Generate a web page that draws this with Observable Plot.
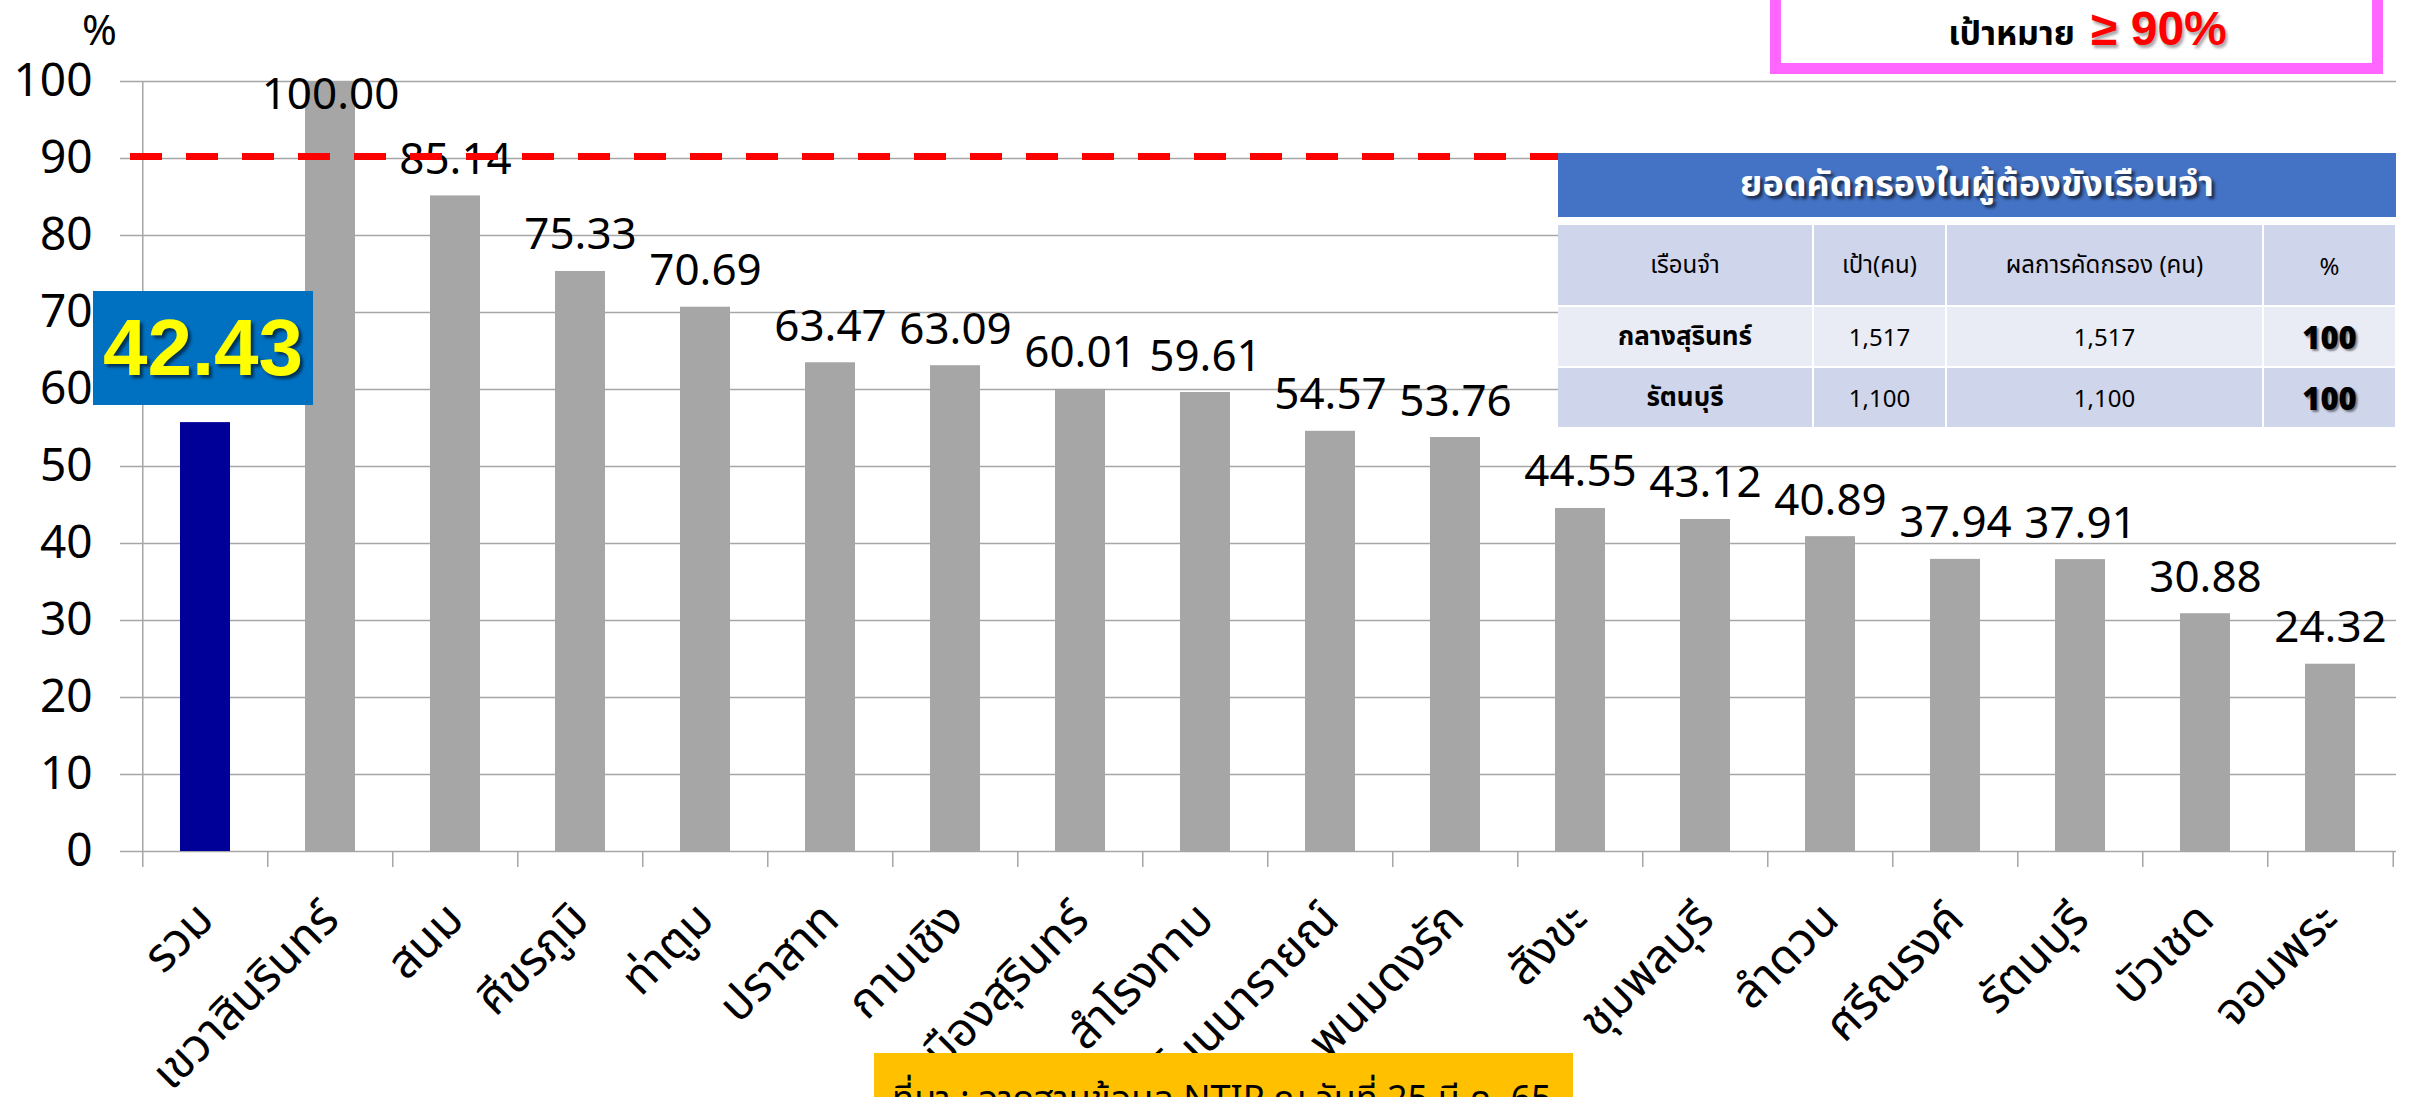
<!DOCTYPE html>
<html><head><meta charset="utf-8">
<script src="https://cdn.jsdelivr.net/npm/d3@7"></script>
<script src="https://cdn.jsdelivr.net/npm/@observablehq/plot@0.6"></script>
<style>
body{margin:0;background:#fff;font-family:"Noto Sans","Noto Sans Thai",Loma,Garuda,"DejaVu Sans",sans-serif;}
#wrap{position:relative;width:2414px;height:1097px;overflow:hidden;background:#fff;}
#wrap svg{position:absolute;left:0;top:0;}
.ov{position:absolute;box-sizing:border-box;}
#totalBox{background:#0070c0;color:#ffff00;font-family:Arial,"Liberation Sans",sans-serif;font-weight:bold;font-size:80px;display:flex;align-items:center;justify-content:center;text-shadow:3px 3px 3px rgba(0,0,0,0.55);}
#pct{font-size:42px;line-height:1;color:#000;}
#targetBox{left:1770px;top:-30px;width:613px;height:104px;border:11px solid #ff66ff;background:#fff;}
#targetText{left:1770px;top:5px;width:613px;display:flex;align-items:baseline;justify-content:center;padding-left:22px;line-height:1;}
#targetText .a{font-weight:bold;font-size:34px;color:#000;margin-right:16px;}
#targetText .b{font-weight:bold;font-size:48px;color:#ff0000;text-shadow:2px 3px 3px rgba(0,0,0,0.35);font-family:Arial,"Liberation Sans",sans-serif;}
#table{left:1558px;top:153px;width:838px;}
#table .head{height:64px;background:#4472c4;color:#fff;font-weight:bold;font-size:36px;display:flex;align-items:center;justify-content:center;text-shadow:3px 3px 3px rgba(0,0,0,0.6);}
#table .grid{margin-top:8px;display:grid;grid-template-columns:254px 131px 315px 131px;grid-template-rows:80px 59px 59px;gap:2px 2px;background:#fff;}
#table .grid div{display:flex;align-items:center;justify-content:center;font-size:24px;color:#000;}
#table .dark{background:#cfd5ea;}
#table .light{background:#e9ebf5;}
#table .bold{font-weight:bold;font-size:26px !important;}
#table .big{font-weight:900;font-size:31px !important;text-shadow:2px 2px 2px rgba(0,0,0,0.45);}
#source{left:874px;top:1053px;width:699px;height:80px;background:#ffc000;color:#000;font-size:36px;padding:20px 0 0 18px;white-space:nowrap;}
</style></head><body><div id="wrap"></div>
<script>
// ---- data ----
const districts = ["รวม","เขวาสินรินทร์","สนม","ศีขรภูมิ","ท่าตูม","ปราสาท","กาบเชิง","เมืองสุรินทร์","สำโรงทาบ","โนนนารายณ์","พนมดงรัก","สังขะ","ชุมพลบุรี","ลำดวน","ศรีณรงค์","รัตนบุรี","บัวเชด","จอมพระ"];
const percents = [55.7,100.00,85.14,75.33,70.69,63.47,63.09,60.01,59.61,54.57,53.76,44.55,43.12,40.89,37.94,37.91,30.88,24.32];
const totalLabel = "42.43";
const targetValue = 90;
const yTicks = [0,10,20,30,40,50,60,70,80,90,100];
const tableTitle = "ยอดคัดกรองในผู้ต้องขังเรือนจำ";
const tableHeaders = ["เรือนจำ","เป้า(คน)","ผลการคัดกรอง (คน)","%"];
const prisonNames = ["กลางสุรินทร์","รัตนบุรี"];
const prisonTargets = ["1,517","1,100"];
const prisonScreened = ["1,517","1,100"];
const prisonPercents = ["100","100"];
const targetText = ["เป้าหมาย","≥ 90%"];
const sourceText = "ที่มา : จากฐานข้อมูล NTIP ณ วันที่ 25 มี.ค. 65";

// ---- chart ----
const W = 2414, H = 1097, mL = 138, mR = 18, mT = 81, mB = 246;
const data = districts.map((d, i) => ({name: d, value: percents[i], total: i === 0}));
const step = (W - mL - mR) / districts.length;
const gray = "#a6a6a6";
const font = '"Noto Sans","Noto Sans Thai",Loma,Garuda,"DejaVu Sans",sans-serif';

const plot = Plot.plot({
  width: W, height: H,
  marginLeft: mL, marginRight: mR, marginTop: mT, marginBottom: mB,
  style: {fontFamily: font, fontSize: "44px", color: "#000", background: "transparent", overflow: "visible"},
  x: {domain: districts, paddingInner: 0.6, paddingOuter: 0.3, label: null},
  y: {domain: [0, 100], label: null},
  marks: [
    Plot.gridY(yTicks, {stroke: gray, strokeOpacity: 1, strokeWidth: 1.5}),
    Plot.axisY(yTicks, {tickSize: 18, tickPadding: 28, stroke: gray, strokeWidth: 1.5, fontSize: 46, label: null, tickFormat: d => String(d)}),
    Plot.ruleX(districts, {x: d => d, y1: 0, y2: 0, dx: -step / 2, insetBottom: -16, stroke: gray, strokeWidth: 1.5}),
    Plot.ruleX(districts.slice(-1), {x: d => d, y1: 0, y2: 0, dx: step / 2, insetBottom: -16, stroke: gray, strokeWidth: 1.5}),
    Plot.ruleX(districts.slice(0, 1), {x: d => d, y1: 0, y2: 100, dx: -step / 2, stroke: gray, strokeWidth: 1.5}),
    Plot.barY(data, {x: "name", y: "value", fill: d => d.total ? "#000099" : gray}),
    Plot.text(data.filter(d => !d.total && d.value < 99), {x: "name", y: "value", text: d => d.value.toFixed(2), lineAnchor: "bottom", dy: -22, fontSize: 44, fill: "#000"}),
    Plot.text(data.filter(d => !d.total && d.value >= 99), {x: "name", y: "value", text: d => d.value.toFixed(2), lineAnchor: "top", dy: -4, fontSize: 44, fill: "#000"}),
    Plot.ruleY([targetValue], {y: d => d, stroke: "#ff0000", strokeWidth: 7, strokeDasharray: "32,24", dy: -2, insetLeft: -8}),
    Plot.axisX({tickRotate: -45, tickSize: 0, tickPadding: 60, fontSize: 47, label: null, dx: 0})
  ]
});
const wrap = document.getElementById("wrap");
wrap.appendChild(plot);

const xs = plot.scale("x"), ys = plot.scale("y");

// % unit label
const pct = document.createElement("div");
pct.className = "ov"; pct.id = "pct"; pct.textContent = "%";
pct.style.left = "82px"; pct.style.top = "8px";
wrap.appendChild(pct);

// total label box, sitting above the total bar
const tb = document.createElement("div");
tb.className = "ov"; tb.id = "totalBox"; tb.textContent = totalLabel;
const cx = xs.apply(districts[0]) + xs.bandwidth / 2;
const barTop = ys.apply(percents[0]);
tb.style.left = (cx - 112) + "px"; tb.style.width = "220px";
tb.style.top = (barTop - 17 - 114) + "px"; tb.style.height = "114px";
wrap.appendChild(tb);

// target box
const tg = document.createElement("div");
tg.className = "ov"; tg.id = "targetBox";
wrap.appendChild(tg);
const tt = document.createElement("div");
tt.className = "ov"; tt.id = "targetText";
tt.innerHTML = `<span class="a">${targetText[0]}</span><span class="b">${targetText[1]}</span>`;
wrap.appendChild(tt);

// table
const tbl = document.createElement("div");
tbl.className = "ov"; tbl.id = "table";
let html = `<div class="head">${tableTitle}</div><div class="grid">`;
tableHeaders.forEach(h => html += `<div class="dark">${h}</div>`);
prisonNames.forEach((n, i) => {
  const cls = i === 0 ? "light" : "dark";
  html += `<div class="${cls} bold">${n}</div><div class="${cls}">${prisonTargets[i]}</div><div class="${cls}">${prisonScreened[i]}</div><div class="${cls} big">${prisonPercents[i]}</div>`;
});
html += `</div>`;
tbl.innerHTML = html;
wrap.appendChild(tbl);

// source box
const src = document.createElement("div");
src.className = "ov"; src.id = "source"; src.textContent = sourceText;
wrap.appendChild(src);
</script>
</body></html>
